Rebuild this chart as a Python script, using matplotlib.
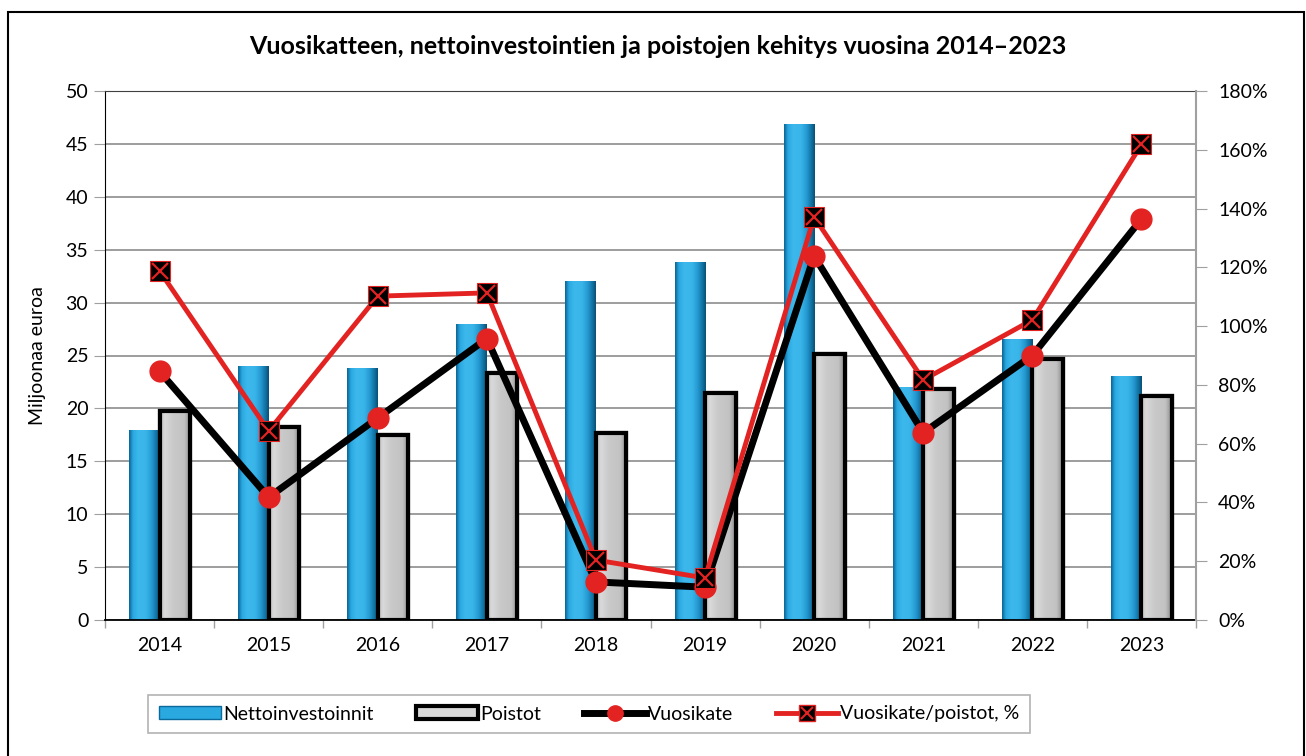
import numpy as np
import matplotlib
matplotlib.use("Agg")
import matplotlib.pyplot as plt
from matplotlib.colors import LinearSegmentedColormap
from matplotlib.patches import Patch, Rectangle
from matplotlib.lines import Line2D
from matplotlib.ticker import FuncFormatter

plt.rcParams['font.family'] = ['Lato', 'DejaVu Sans']

# data
years = ['2014', '2015', '2016', '2017', '2018', '2019', '2020', '2021', '2022', '2023']
netto = [17.9, 24.0, 23.8, 27.9, 32.0, 33.8, 46.8, 22.0, 26.5, 23.0]
poistot = [19.8, 18.2, 17.5, 23.3, 17.7, 21.5, 25.1, 21.8, 24.7, 21.2]
vuosikate = [23.5, 11.6, 19.1, 26.6, 3.6, 3.1, 34.4, 17.7, 25.0, 37.9]
suhde = [118.8, 64.3, 110.2, 111.3, 20.4, 14.3, 137.1, 81.7, 102.1, 161.8]

x = np.arange(len(years))
w = 0.28

fig = plt.figure(figsize=(13.06, 7.56), dpi=100)
ax = fig.add_axes([105/1306, 136/756, 1091/1306, 529/756])

# gradients for the bars
blue_cm = LinearSegmentedColormap.from_list(
    'b', [(0, '#0b6496'), (0.12, '#2aa8e0'), (0.3, '#3cb8ec'), (0.55, '#3ab5ea'),
          (0.75, '#2398d0'), (0.9, '#11709f'), (1, '#0a4f75')])
grey_cm = LinearSegmentedColormap.from_list(
    'g', [(0, '#bcbcbc'), (0.15, '#dadada'), (0.4, '#cacaca'), (0.8, '#c2c2c2'), (1, '#8a8a8a')])
grad = np.linspace(0, 1, 64).reshape(1, -1)

b1 = ax.bar(x - w/2, netto, w, color='#3ab5ea', edgecolor='none', zorder=2)
b2 = ax.bar(x + w/2, poistot, w, color='#c6c6c6', edgecolor='black', linewidth=3, zorder=2)
for rects, cm in ((b1, blue_cm), (b2, grey_cm)):
    for r in rects:
        x0, h, bw = r.get_x(), r.get_height(), r.get_width()
        ax.imshow(grad, cmap=cm, aspect='auto', extent=(x0, x0 + bw, 0, h),
                  zorder=2.1, interpolation='bicubic')
for r in b2:
    ax.add_patch(Rectangle((r.get_x(), 0), r.get_width(), r.get_height(),
                           fill=False, edgecolor='black', linewidth=3, zorder=2.2))

ax.plot(x, vuosikate, color='black', lw=5, marker='o', ms=15,
        mfc='#e32322', mec='#e32322', zorder=3)

ax.set_xlim(-0.5, len(years) - 0.5)
ax.set_ylim(0, 50)
ax.set_yticks(range(0, 51, 5))
ax.yaxis.grid(True, color='#8c8c8c', lw=1.2)
ax.set_axisbelow(True)
ax.set_xticks(x)
ax.set_xticklabels(years)
ax.set_xticks(np.arange(-0.5, len(years), 1), minor=True)
ax.tick_params(axis='x', which='major', length=0, pad=12, labelsize=14)
ax.tick_params(axis='x', which='minor', length=6, color='#a0a0a0', width=1)
ax.tick_params(axis='y', length=8, color='#a0a0a0', labelsize=14, pad=4)
ax.spines['top'].set_color('#404040')
ax.spines['left'].set_color('black')
ax.spines['bottom'].set_color('black')
ax.spines['bottom'].set_linewidth(1.3)
ax.spines['right'].set_visible(False)
ax.set_ylabel('Miljoonaa euroa', fontsize=14, labelpad=14)

ax2 = ax.twinx()
ax2.plot(x, suhde, color='#e32322', lw=3.5, zorder=3)
ax2.plot(x, suhde, ls='none', marker='s', ms=14, mfc='black', mec='#e32322', mew=0.8, zorder=4)
ax2.plot(x, suhde, ls='none', marker='x', ms=11, mec='#e32322', mew=1.6, zorder=5)
ax2.set_ylim(0, 180)
ax2.set_yticks(range(0, 181, 20))
ax2.yaxis.set_major_formatter(FuncFormatter(lambda v, p: f'{int(v)}%'))
ax2.tick_params(axis='y', length=8, color='#a0a0a0', labelsize=14, pad=8)
ax2.spines['right'].set_color('#a0a0a0')
ax2.spines['right'].set_linewidth(1.5)
for s in ('top', 'left', 'bottom'):
    ax2.spines[s].set_visible(False)

fig.text(658/1306, 1 - 47/756, 'Vuosikatteen, nettoinvestointien ja poistojen kehitys vuosina 2014\u20132023',
         ha='center', va='center', fontsize=18, fontweight='bold')

handles = [
    Patch(facecolor='#2aa8e0', edgecolor='#0b6a9c', linewidth=1),
    Patch(facecolor='#d8d8d8', edgecolor='black', linewidth=3),
    Line2D([], [], color='black', lw=5, marker='o', ms=11, mfc='#e32322', mec='#e32322'),
    (Line2D([], [], color='#e32322', lw=3.5, marker='s', ms=11, mfc='black', mec='#e32322'),
     Line2D([], [], ls='none', marker='x', ms=9, mec='#e32322', mew=1.5)),
]
labels = ['Nettoinvestoinnit', 'Poistot', 'Vuosikate', 'Vuosikate/poistot, %']
leg = fig.legend(handles, labels, loc='center', bbox_to_anchor=(589/1306, 1 - 714/756),
                 ncol=4, fontsize=14, frameon=True, fancybox=False, edgecolor='#a0a0a0',
                 handlelength=3.2, handleheight=0.6, handletextpad=0.1, columnspacing=2.2,
                 borderpad=0.55, borderaxespad=0)
leg.get_frame().set_linewidth(1.2)

fig.patches.append(Rectangle((8/1306, -0.01), 1296/1306, 1 - 12/756 + 0.01,
                             transform=fig.transFigure, fill=False,
                             edgecolor='black', linewidth=1.5))

fig.savefig('out.png', dpi=100)
